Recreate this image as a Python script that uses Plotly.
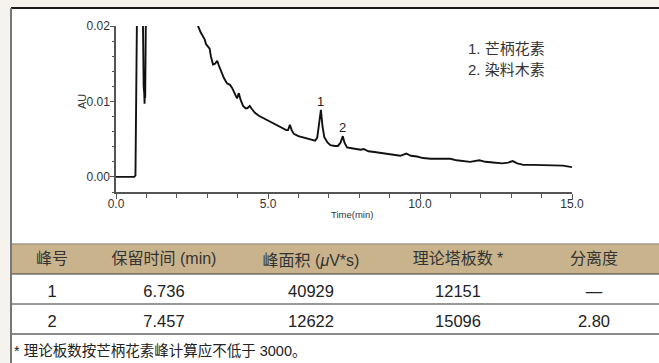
import plotly.graph_objects as go

W, H = 659, 363

# ---------------- data ----------------
time_min = [0.00, 0.30, 0.60, 0.64, 0.68, 0.71, 0.86, 0.88, 0.91, 0.93, 0.94, 0.95, 0.96, 0.98, 1.00,
            2.65, 2.70, 2.78, 2.86, 2.92, 2.96, 3.03, 3.08, 3.12, 3.19, 3.26, 3.33, 3.38, 3.45, 3.55,
            3.65, 3.75, 3.82, 3.92, 3.98, 4.04, 4.10, 4.18, 4.26, 4.32, 4.40, 4.47, 4.57, 4.70, 4.85,
            4.96, 5.10, 5.30, 5.45, 5.60, 5.66, 5.72, 5.78, 5.85, 6.00, 6.20, 6.40, 6.55, 6.62, 6.68,
            6.74, 6.79, 6.85, 6.95, 7.05, 7.20, 7.30, 7.38, 7.46, 7.52, 7.60, 7.75, 7.95, 8.05, 8.15,
            8.30, 8.50, 8.70, 8.90, 9.10, 9.35, 9.55, 9.70, 9.90, 10.10, 10.35, 10.60, 10.85, 11.00,
            11.20, 11.45, 11.65, 11.95, 12.15, 12.40, 12.70, 12.90, 13.05, 13.20, 13.40, 13.70, 14.00,
            14.30, 14.50, 14.70, 14.85, 15.00]
absorbance = [0.0000, 0.0000, 0.0000, 0.0002, 0.0150, 0.0300, 0.0300, 0.0200, 0.0120, 0.0110, 0.0097,
              0.0118, 0.0105, 0.0200, 0.0300,
              0.0300, 0.0200, 0.0192, 0.0186, 0.0182, 0.0176, 0.0172, 0.0170, 0.0160, 0.0149, 0.0150,
              0.0154, 0.0148, 0.0140, 0.0131, 0.0124, 0.0122, 0.0118, 0.0108, 0.0104, 0.0111, 0.0102,
              0.0094, 0.0091, 0.0091, 0.0094, 0.0090, 0.0085, 0.0081, 0.0078, 0.0075, 0.0073, 0.0069,
              0.0066, 0.0062, 0.0062, 0.0069, 0.0062, 0.0057, 0.0054, 0.0052, 0.0049, 0.0048, 0.0052,
              0.0068, 0.0089, 0.0068, 0.0053, 0.0046, 0.0042, 0.0041, 0.0041, 0.0045, 0.0054, 0.0045,
              0.0039, 0.0038, 0.0037, 0.0036, 0.0037, 0.0034, 0.0033, 0.0032, 0.0031, 0.0030, 0.0028,
              0.0031, 0.0028, 0.0027, 0.0025, 0.0024, 0.0024, 0.0023, 0.0024, 0.0022, 0.0021, 0.0020,
              0.0022, 0.0020, 0.0019, 0.0018, 0.0019, 0.0021, 0.0018, 0.0016, 0.0016, 0.0016, 0.0016,
              0.0016, 0.0015, 0.0014, 0.0013]

peak_labels = ["1", "2"]
peak_rt = [6.736, 7.457]
peak_height = [0.0089, 0.0054]

legend_lines = ["1. 芒柄花素", "2. 染料木素"]

x_tick_vals = [0, 5, 10, 15]
y_tick_vals = [0.00, 0.01, 0.02]
x_title = "Time(min)"
y_title = "AU"

table_headers = ["峰号", "保留时间 (min)", "峰面积 (<i>μ</i>V*s)", "理论塔板数 *", "分离度"]
peak_no = ["1", "2"]
retention_time = ["6.736", "7.457"]
peak_area = ["40929", "12622"]
plate_number = ["12151", "15096"]
resolution = ["—", "2.80"]
footnote = "* 理论板数按芒柄花素峰计算应不低于 3000。"

# ---------------- helpers ----------------
def px(x):
    return x / W

def py(y):
    return 1 - y / H

SANS = "Liberation Sans, Arial, Noto Sans CJK SC, sans-serif"

fig = go.Figure()

fig.add_trace(go.Scatter(x=time_min, y=absorbance, mode="lines",
                         line=dict(color="#111111", width=1.9), showlegend=False,
                         hoverinfo="skip"))

fig.add_trace(go.Table(
    domain=dict(x=[px(11), 1], y=[0, py(244)]),
    columnwidth=[82, 142, 152, 142, 130],
    header=dict(values=table_headers, height=30, align="center",
                fill=dict(color="rgba(0,0,0,0)"), line=dict(color="rgba(0,0,0,0)", width=0),
                font=dict(family=SANS, size=16, color="#333333")),
    cells=dict(values=[peak_no, retention_time, peak_area, plate_number, resolution],
               height=30, align="center",
               fill=dict(color="rgba(0,0,0,0)"), line=dict(color="rgba(0,0,0,0)", width=0),
               font=dict(family=SANS, size=16.5, color="#222222")),
))

annotations = []
for lab, rt, h in zip(peak_labels, peak_rt, peak_height):
    annotations.append(dict(x=rt, y=h, xref="x", yref="y", text=lab, showarrow=False,
                            xanchor="center", yanchor="bottom", yshift=-1,
                            font=dict(family=SANS, size=13, color="#222222")))
for i, line in enumerate(legend_lines):
    annotations.append(dict(x=px(466), y=py(48 + 22 * i), xref="paper", yref="paper", text=line,
                            showarrow=False, xanchor="left", yanchor="middle",
                            font=dict(family=SANS, size=15, color="#333333")))
annotations.append(dict(x=px(82), y=py(102), xref="paper", yref="paper", text=y_title, textangle=-90,
                        showarrow=False, xanchor="center", yanchor="middle",
                        font=dict(family=SANS, size=11, color="#333333")))
annotations.append(dict(x=px(352), y=py(214), xref="paper", yref="paper", text=x_title,
                        showarrow=False, xanchor="center", yanchor="middle",
                        font=dict(family=SANS, size=9.5, color="#333333")))
annotations.append(dict(x=px(12), y=py(350), xref="paper", yref="paper", text=footnote,
                        showarrow=False, xanchor="left", yanchor="middle",
                        font=dict(family=SANS, size=14.5, color="#222222")))

beige = "#f6f2ee"
shapes = [
    dict(type="rect", xref="paper", yref="paper", x0=0, x1=1, y0=py(8), y1=1,
         fillcolor=beige, line=dict(width=0), layer="below"),
    dict(type="rect", xref="paper", yref="paper", x0=0, x1=px(11), y0=0, y1=1,
         fillcolor=beige, line=dict(width=0), layer="below"),
    dict(type="line", xref="paper", yref="paper", x0=px(11), x1=1, y0=py(8), y1=py(8),
         line=dict(color="#1a1a1a", width=2)),
    dict(type="line", xref="paper", yref="paper", x0=px(11), x1=px(11), y0=py(8), y1=0,
         line=dict(color="#777777", width=2)),
    dict(type="rect", xref="paper", yref="paper", x0=px(12), x1=1, y0=py(274), y1=py(244),
         fillcolor="#c9b38d", line=dict(width=0), layer="below"),
    dict(type="line", xref="paper", yref="paper", x0=px(12), x1=1, y0=py(244), y1=py(244),
         line=dict(color="#a09889", width=1.5)),
    dict(type="line", xref="paper", yref="paper", x0=px(12), x1=1, y0=py(274), y1=py(274),
         line=dict(color="#3a3a3a", width=1)),
    dict(type="line", xref="paper", yref="paper", x0=px(12), x1=1, y0=py(304), y1=py(304),
         line=dict(color="#333333", width=1)),
    dict(type="line", xref="paper", yref="paper", x0=px(12), x1=1, y0=py(334), y1=py(334),
         line=dict(color="#8a8a8a", width=2)),
]

fig.update_layout(
    width=W, height=H, margin=dict(l=0, r=0, t=0, b=0, pad=0, autoexpand=False),
    paper_bgcolor="white", plot_bgcolor="rgba(0,0,0,0)",
    showlegend=False, annotations=annotations, shapes=shapes,
    xaxis=dict(domain=[px(116), px(572)], range=[0, 15], tickvals=x_tick_vals, tickformat=".1f",
               ticks="outside", ticklen=5, tickwidth=1, tickcolor="#555555", automargin=False,
               ticklabelstandoff=-5,
               showline=True, linecolor="#555555", linewidth=1.5, showgrid=False, zeroline=False,
               minor=dict(dtick=1, tick0=0, ticks="outside", ticklen=4, tickcolor="#555555", showgrid=False),
               tickfont=dict(family=SANS, size=12, color="#333333"),
               fixedrange=True),
    yaxis=dict(domain=[py(192), py(26)], range=[-0.002, 0.02], tickvals=y_tick_vals, tickformat=".2f",
               ticks="outside", ticklen=4, tickwidth=1, tickcolor="#555555", automargin=False,
               ticklabelstandoff=-2,
               showline=True, linecolor="#555555", linewidth=1.5, showgrid=False, zeroline=False,
               minor=dict(dtick=0.002, tick0=0, ticks="outside", ticklen=2, tickcolor="#555555", showgrid=False),
               tickfont=dict(family=SANS, size=12, color="#333333"),
               fixedrange=True),
)

fig.write_html("out.html", config={"displayModeBar": False},
               post_script="document.body.style.margin='0px';document.body.style.overflow='hidden';")
